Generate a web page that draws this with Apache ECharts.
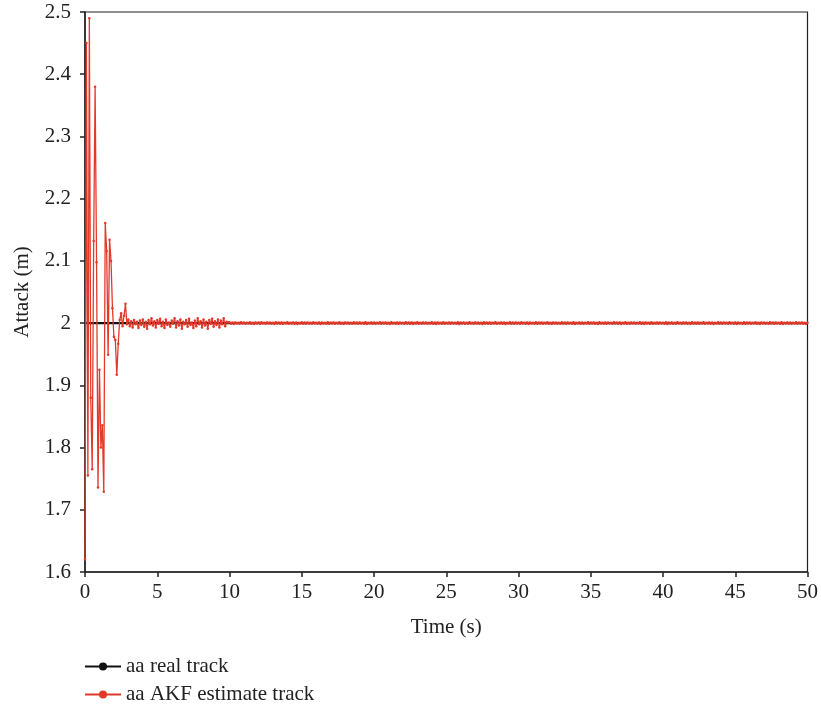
<!DOCTYPE html>
<html>
<head>
<meta charset="utf-8">
<script src="https://cdn.jsdelivr.net/npm/echarts@6/dist/echarts.min.js"></script>
<style>html,body{margin:0;padding:0;background:#fff}#c{width:821px;height:711px}</style>
</head>
<body>
<div id="c"></div>
<script>
// Time step of the sampled tracks (s)
var timeStep = 0.1;
var xTicks = [0, 5, 10, 15, 20, 25, 30, 35, 40, 45, 50];
var yTicks = [1.6, 1.7, 1.8, 1.9, 2, 2.1, 2.2, 2.3, 2.4, 2.5];

// Real track (constant)
var realTime = [0, 50];
var realValue = [2, 2];

// AKF estimate, 0 - 2.9 s
var estEarly = [
  1.62, 2.45, 1.755, 2.49, 1.88, 1.765, 2.132, 2.38, 2.098, 1.736,
  1.925, 1.80, 1.836, 1.729, 2.161, 2.116, 1.949, 2.134, 2.10, 2.024,
  1.978, 1.973, 1.917, 1.967, 2.005, 2.016, 1.995, 2.012, 2.031, 1.998
];
// AKF estimate, 3.0 - 9.9 s
var estMid = [
  2.006,1.995,2.003,1.993,2.005,1.998,2.002,1.992,2.004,1.997,
  2.006,1.994,2.002,1.991,2.005,1.998,2.008,1.996,2.003,1.993,
  2.005,1.999,2.007,1.995,2.002,1.992,2.006,1.997,2.001,1.994,
  2.004,1.999,2.008,1.993,2.003,1.996,2.006,1.991,2.002,1.998,
  2.005,1.994,2.007,1.997,2.001,1.992,2.004,1.995,2.008,1.998,
  2.003,1.993,2.006,1.996,2.002,1.991,2.005,1.999,2.007,1.994,
  2.003,1.997,2.006,1.993,2.004,1.998,2.008,1.995,2.002,2.001
];
// AKF estimate, 10.0 - 50.0 s
var estLate = [
  2.0012,1.9991,2.0008,1.9987,2.0011,1.9993,2.0006,1.9989,2.0013,1.9992,
  2.0009,1.9988,2.0005,1.9994,2.0012,1.9990,2.0007,1.9986,2.0010,1.9995,
  2.0008,1.9989,2.0013,1.9992,2.0006,1.9988,2.0011,1.9993,2.0009,1.9990,
  2.0005,1.9987,2.0012,1.9994,2.0008,1.9991,2.0010,1.9989,2.0007,1.9992,
  2.0013,1.9988,2.0006,1.9993,2.0011,1.9990,2.0009,1.9987,2.0005,1.9994,
  2.0012,1.9991,2.0008,1.9989,2.0010,1.9992,2.0007,1.9988,2.0013,1.9993,
  2.0006,1.9990,2.0011,1.9987,2.0009,1.9994,2.0005,1.9991,2.0012,1.9989,
  2.0008,1.9992,2.0010,1.9988,2.0007,1.9993,2.0013,1.9990,2.0006,1.9987,
  2.0011,1.9994,2.0009,1.9991,2.0005,1.9989,2.0012,1.9992,2.0008,1.9988,
  2.0010,1.9993,2.0007,1.9990,2.0013,1.9987,2.0006,1.9994,2.0011,1.9991,
  2.0009,1.9989,2.0005,1.9992,2.0012,1.9988,2.0008,1.9993,2.0010,1.9990,
  2.0007,1.9987,2.0013,1.9994,2.0006,1.9991,2.0011,1.9989,2.0009,1.9992,
  2.0005,1.9988,2.0012,1.9993,2.0008,1.9990,2.0010,1.9987,2.0007,1.9994,
  2.0013,1.9991,2.0006,1.9989,2.0011,1.9992,2.0009,1.9988,2.0005,1.9993,
  2.0012,1.9990,2.0008,1.9987,2.0010,1.9994,2.0007,1.9991,2.0013,1.9989,
  2.0006,1.9992,2.0011,1.9988,2.0009,1.9993,2.0005,1.9990,2.0012,1.9987,
  2.0008,1.9994,2.0010,1.9991,2.0007,1.9989,2.0013,1.9992,2.0006,1.9988,
  2.0011,1.9993,2.0009,1.9990,2.0005,1.9987,2.0012,1.9994,2.0008,1.9991,
  2.0010,1.9989,2.0007,1.9992,2.0013,1.9988,2.0006,1.9993,2.0011,1.9990,
  2.0009,1.9987,2.0005,1.9994,2.0012,1.9991,2.0008,1.9989,2.0010,1.9992,
  2.0007,1.9988,2.0013,1.9993,2.0006,1.9990,2.0011,1.9987,2.0009,1.9994,
  2.0005,1.9991,2.0012,1.9989,2.0008,1.9992,2.0010,1.9988,2.0007,1.9993,
  2.0013,1.9990,2.0006,1.9987,2.0011,1.9994,2.0009,1.9991,2.0005,1.9989,
  2.0012,1.9992,2.0008,1.9988,2.0010,1.9993,2.0007,1.9990,2.0013,1.9987,
  2.0006,1.9994,2.0011,1.9991,2.0009,1.9989,2.0005,1.9992,2.0012,1.9988,
  2.0008,1.9993,2.0010,1.9990,2.0007,1.9987,2.0013,1.9994,2.0006,1.9991,
  2.0011,1.9989,2.0009,1.9992,2.0005,1.9988,2.0012,1.9993,2.0008,1.9990,
  2.0010,1.9987,2.0007,1.9994,2.0013,1.9991,2.0006,1.9989,2.0011,1.9992,
  2.0009,1.9988,2.0005,1.9993,2.0012,1.9990,2.0008,1.9987,2.0010,1.9994,
  2.0007,1.9991,2.0013,1.9989,2.0006,1.9992,2.0011,1.9988,2.0009,1.9993,
  2.0005,1.9990,2.0012,1.9987,2.0008,1.9994,2.0010,1.9991,2.0007,1.9989,
  2.0013,1.9992,2.0006,1.9988,2.0011,1.9993,2.0009,1.9990,2.0005,1.9987,
  2.0012,1.9994,2.0008,1.9991,2.0010,1.9989,2.0007,1.9992,2.0013,1.9988,
  2.0006,1.9993,2.0011,1.9990,2.0009,1.9987,2.0005,1.9994,2.0012,1.9991,
  2.0008,1.9989,2.0010,1.9992,2.0007,1.9988,2.0013,1.9993,2.0006,1.9990,
  2.0011,1.9987,2.0009,1.9994,2.0005,1.9991,2.0012,1.9989,2.0008,1.9992,
  2.0010,1.9988,2.0007,1.9993,2.0013,1.9990,2.0006,1.9987,2.0011,1.9994,
  2.0009,1.9991,2.0005,1.9989,2.0012,1.9992,2.0008,1.9988,2.0010,1.9993,
  2.0007,1.9990,2.0013,1.9987,2.0006,1.9994,2.0011,1.9991,2.0009,1.9989,
  2.0005,1.9992,2.0012,1.9988,2.0008,1.9993,2.0010,1.9990,2.0007,1.9987,
  2.0004
];

var estValues = estEarly.concat(estMid, estLate);
var estData = estValues.map(function (v, i) { return [+(i * timeStep).toFixed(1), v]; });
var realData = realTime.map(function (t, i) { return [t, realValue[i]]; });

var FONT = '"Liberation Serif", "DejaVu Serif", serif';
var chart = echarts.init(document.getElementById('c'), null, { renderer: 'canvas' });
chart.setOption({
  animation: false,
  backgroundColor: '#fff',
  textStyle: { fontFamily: FONT },
  grid: { left: 85, right: 13, top: 12, bottom: 139, show: true, borderColor: '#222', borderWidth: 1.2, backgroundColor: 'transparent' },
  xAxis: {
    type: 'value', min: xTicks[0], max: xTicks[xTicks.length - 1], interval: 5,
    name: 'Time (s)', nameLocation: 'middle', nameGap: 45,
    nameTextStyle: { fontFamily: FONT, fontSize: 21, color: '#222' },
    axisLine: { lineStyle: { color: '#222', width: 1.5 } },
    axisTick: { show: true, inside: false, length: 5, lineStyle: { color: '#222', width: 1.5 } },
    axisLabel: { fontFamily: FONT, fontSize: 21, color: '#222', margin: 10 },
    splitLine: { show: false }
  },
  yAxis: {
    type: 'value', min: yTicks[0], max: yTicks[yTicks.length - 1], interval: 0.1,
    name: 'Attack (m)', nameLocation: 'middle', nameGap: 52,
    nameTextStyle: { fontFamily: FONT, fontSize: 21, color: '#222' },
    axisLine: { lineStyle: { color: '#222', width: 1.5 } },
    axisTick: { show: true, inside: false, length: 5, lineStyle: { color: '#222', width: 1.5 } },
    axisLabel: { fontFamily: FONT, fontSize: 21, color: '#222', margin: 14 },
    splitLine: { show: false }
  },
  legend: {
    orient: 'vertical', left: 84, top: 656, padding: 0, itemWidth: 36, itemHeight: 10, itemGap: 7,
    textStyle: { fontFamily: FONT, fontSize: 21, color: '#222' },
    data: ['aa real track', 'aa AKF estimate track']
  },
  series: [
    {
      name: 'aa real track', type: 'line', data: realData,
      symbol: 'circle', symbolSize: 8, showSymbol: false,
      lineStyle: { color: '#111', width: 2.2 }, itemStyle: { color: '#111' }, z: 2
    },
    {
      name: 'aa AKF estimate track', type: 'line', data: estData,
      symbol: 'circle', symbolSize: 2.5, showSymbol: true,
      lineStyle: { color: '#e23a2a', width: 1.3 }, itemStyle: { color: '#e23a2a' }, z: 3
    }
  ]
});
</script>
</body>
</html>
